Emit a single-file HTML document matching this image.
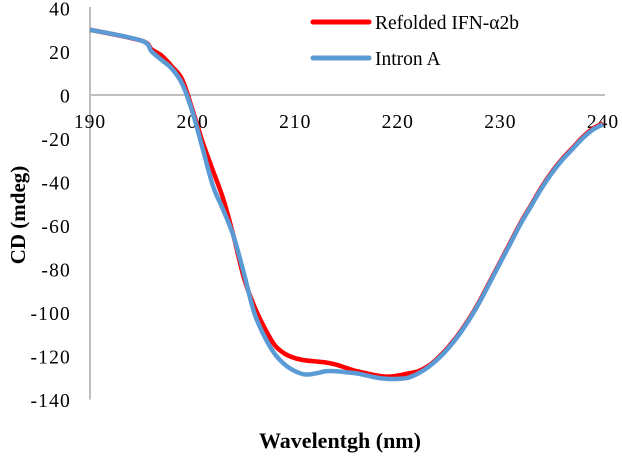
<!DOCTYPE html>
<html><head><meta charset="utf-8"><style>
body{margin:0;background:#fff}
svg{display:block;font-family:"Liberation Serif",serif}
</style></head><body>
<svg id="chart" width="622" height="458">
<g id="axes"></g><g id="series"></g>
<g>
<line x1="313" y1="22" x2="369" y2="22" stroke="#ff0000" stroke-width="5" stroke-linecap="round"/>
<text x="375" y="29" font-size="19.5">Refolded IFN-α2b</text>
<line x1="313" y1="58" x2="369" y2="58" stroke="#5b9bd5" stroke-width="5" stroke-linecap="round"/>
<text x="375" y="65" font-size="19.5">Intron A</text>
</g>
<text transform="translate(25,215) rotate(-90)" text-anchor="middle" font-size="21" font-weight="bold">CD (mdeg)</text>
<text x="340" y="448" text-anchor="middle" font-size="22" font-weight="bold">Wavelentgh (nm)</text>
</svg>
<script>
const wavelengths=[190,195,196,197,198,199,200,201,202,203,204,205,206,207,208,209,210,211,212,213,214,215,216,217,218,219,220,221,222,223,224,225,226,227,228,229,230,231,232,233,234,235,236,237,238,239,240];
const refolded=[30,25,21,18,13,7,-7,-22,-35,-48,-65,-84,-97,-107,-115,-119,-121,-122,-122.5,-123,-124,-125.5,-127,-128,-129,-129.5,-129,-128,-127,-124.5,-120.5,-115.5,-109.5,-102.5,-94.5,-85.5,-76.5,-67.5,-58.5,-50.5,-42.5,-35.5,-29.5,-24.5,-19.5,-15.5,-13];
const intronA=[30,25,20,16,12,5,-8,-25,-42,-53,-65,-82,-100,-111,-119,-124,-127,-128.5,-128,-127,-127,-127.5,-128,-129,-130,-130.5,-130.5,-130,-128,-125,-121,-116,-110,-103,-95,-86,-77,-68,-59,-51,-43,-36,-30,-25,-20,-16,-13.5];
const xTicks=[190,200,210,220,230,240];
const yTicks=[40,20,0,-20,-40,-60,-80,-100,-120,-140];
const NS='http://www.w3.org/2000/svg';
function xs(v){return 90+(v-190)*10.26;}
function ys(v){return 95-v*2.175;}
function mk(tag,attrs,parent){const e=document.createElementNS(NS,tag);for(const k in attrs)e.setAttribute(k,attrs[k]);parent.appendChild(e);return e;}
const axes=document.getElementById('axes');
let yl=mk('line',{x1:xs(190),y1:7,x2:xs(190),y2:ys(-140),stroke:'#bfbfbf','stroke-width':2},axes);


let xl=mk('line',{x1:xs(190),y1:ys(0),x2:605,y2:ys(0),stroke:'#bfbfbf','stroke-width':2},axes);


yTicks.forEach(v=>{const t=mk('text',{x:71,y:ys(v)+7.5,'text-anchor':'end','font-size':19.5,'letter-spacing':1.2},axes);t.textContent=v;

});
xTicks.forEach(v=>{const t=mk('text',{x:xs(v),y:ys(0)+33,'text-anchor':'middle','font-size':19.5,'letter-spacing':1},axes);t.textContent=v;

});
function path(vals){const p=wavelengths.map((w,i)=>[xs(w),ys(vals[i])]);let d='M'+p[0][0]+','+p[0][1];
for(let i=0;i<p.length-1;i++){const p0=p[Math.max(0,i-1)],p1=p[i],p2=p[i+1],p3=p[Math.min(p.length-1,i+2)];
const c1=[p1[0]+(p2[0]-p0[0])/6,p1[1]+(p2[1]-p0[1])/6],c2=[p2[0]-(p3[0]-p1[0])/6,p2[1]-(p3[1]-p1[1])/6];
d+=` C${c1[0]},${c1[1]} ${c2[0]},${c2[1]} ${p2[0]},${p2[1]}`;}return d;}
const sg=document.getElementById('series');
let r=mk('path',{d:path(refolded),fill:'none',stroke:'#ff0000','stroke-width':4.5,'stroke-linejoin':'round'},sg);


let b=mk('path',{d:path(intronA),fill:'none',stroke:'#5b9bd5','stroke-width':4.5,'stroke-linejoin':'round'},sg);


</script>
</body></html>
